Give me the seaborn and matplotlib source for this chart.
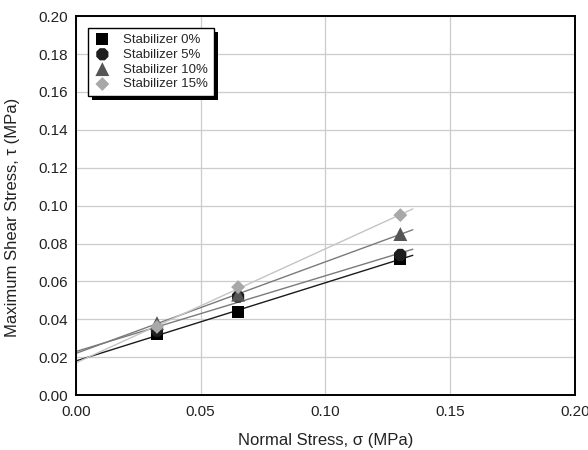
import numpy as np
import pandas as pd
import matplotlib
matplotlib.use("Agg")
import matplotlib.pyplot as plt
from matplotlib.patches import Rectangle
import seaborn as sns

# Direct shear test results
normal_stress = [0.0325, 0.065, 0.13]
series_names = ["Stabilizer 0%", "Stabilizer 5%", "Stabilizer 10%", "Stabilizer 15%"]
shear_0 = [0.032, 0.044, 0.072]
shear_5 = [0.034, 0.052, 0.074]
shear_10 = [0.038, 0.053, 0.085]
shear_15 = [0.036, 0.057, 0.095]

x_ticks = [0.00, 0.05, 0.10, 0.15, 0.20]
y_ticks = [0.00, 0.02, 0.04, 0.06, 0.08, 0.10, 0.12, 0.14, 0.16, 0.18, 0.20]

marker_colors = ["#000000", "#1e1e1e", "#555555", "#a8a8a8"]
line_colors = ["#1a1a1a", "#7a7a7a", "#7a7a7a", "#c4c4c4"]
marker_shapes = ["s", "8", "^", "D"]
marker_sizes = [75, 90, 100, 50]

sns.set_theme(style="white")
plt.rcParams["font.family"] = ["Liberation Sans", "DejaVu Sans"]

rows = []
for name, vals in zip(series_names, [shear_0, shear_5, shear_10, shear_15]):
    for x, y in zip(normal_stress, vals):
        rows.append({"sigma": x, "tau": y, "series": name})
df = pd.DataFrame(rows)

fig = plt.figure(figsize=(5.88, 4.5), dpi=100)
ax = fig.add_axes([0.129, 0.122, 0.849, 0.842])

# Linear failure envelopes
x_fit = np.array([0.0, 0.135])
for name, lc in zip(series_names, line_colors):
    sub = df[df["series"] == name]
    slope, intercept = np.polyfit(sub["sigma"], sub["tau"], 1)
    ax.plot(x_fit, intercept + slope * x_fit, color=lc, lw=1.0, zorder=2)

for name, mc, mk, ms in zip(series_names, marker_colors, marker_shapes, marker_sizes):
    sub = df[df["series"] == name]
    sns.scatterplot(data=sub, x="sigma", y="tau", ax=ax, color=mc, marker=mk,
                    s=ms, edgecolor="none", label=name, zorder=3)

ax.set_xlim(0, 0.20)
ax.set_ylim(0, 0.20)
ax.set_xticks(x_ticks)
ax.set_yticks(y_ticks)
ax.set_xticklabels([f"{v:.2f}" for v in x_ticks], fontsize=11)
ax.set_yticklabels([f"{v:.2f}" for v in y_ticks], fontsize=11)
ax.tick_params(axis="x", length=0, pad=7, colors="#222222")
ax.tick_params(axis="y", length=0, pad=6, colors="#222222")
ax.grid(True, color="#cccccc", lw=0.9)
ax.set_axisbelow(True)
for sp in ax.spines.values():
    sp.set_color("black")
    sp.set_linewidth(1.4)

ax.set_xlabel("Normal Stress, σ (MPa)", fontsize=12, color="#222222")
ax.set_ylabel("Maximum Shear Stress, τ (MPa)", fontsize=12, color="#222222")
ax.xaxis.label.set_va("center")
ax.yaxis.label.set_va("center")
ax.xaxis.set_label_coords(0.5, -0.119)
ax.yaxis.set_label_coords(-0.126, 0.47)

leg = ax.legend(loc="upper left", bbox_to_anchor=(0.024, 0.968), fontsize=9.5,
                frameon=True, fancybox=False, edgecolor="black",
                handletextpad=0.9, borderpad=0.4, labelspacing=0.2,
                handlelength=1.4, borderaxespad=0)
leg.get_frame().set_linewidth(1.0)
leg.get_frame().set_facecolor("white")
leg.get_frame().set_alpha(1)
leg.set_zorder(10)

# Solid offset shadow behind the legend box
fig.canvas.draw()
bb = leg.get_window_extent()
shadow = Rectangle((bb.x0 + 4, bb.y0 - 4), bb.width, bb.height,
                   transform=None, facecolor="black", edgecolor="none", zorder=9)
ax.add_artist(shadow)

fig.savefig("out.png", dpi=100)
